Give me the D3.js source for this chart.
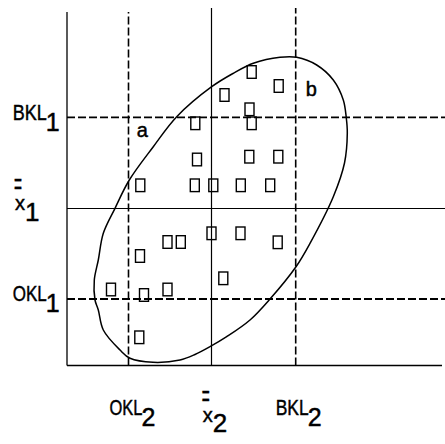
<!DOCTYPE html>
<html>
<head>
<meta charset="utf-8">
<script src="https://cdn.jsdelivr.net/npm/d3@7"></script>
<style>
  body { margin: 0; background: #fff; }
  svg { display: block; }
  text { font-family: "Liberation Sans", Arial, sans-serif; fill: #000; stroke: #000; stroke-width: 0.45px; }
</style>
</head>
<body>
<div id="chart"></div>
<script>
// control limits and grand means (units: lower left corner = 0,0)
var limitNames = ["OKL", "BKL"];
var x2Limits = [61.5, 228.7];
var x2Mean = 144.5;
var x1Limits = [66.5, 248.2];
var x1Mean = 157;

// sample points: x2 (horizontal) and x1 (vertical)
var pointX2 = [184.7, 211.7, 157.5, 182.5, 184.7, 128.3, 130, 182.3, 211.3,
  73.3, 127.8, 146.3, 173.8, 203.2, 144.5, 173.5, 100.5, 113.8, 210.7,
  73, 156.3, 44, 77, 100.5, 72.3];
var pointX1 = [293.5, 279.5, 270.5, 256.2, 242.2, 242.2, 206, 208.8, 208.8,
  180.2, 180.2, 180.2, 180.2, 180.2, 132.2, 132.2, 123.5, 123.5, 123.2,
  109.5, 87.2, 76, 70.5, 76, 28.2];

// outline of the ellipse as drawn
var ellipseX2 = [213, 229.7, 249.7, 266.3, 276.3, 279.3, 280.3, 277.5, 266.3,
  243, 229, 203, 183, 159.7, 143, 128, 113, 86, 63, 53, 36.3, 31.3, 28, 27.3,
  31.3, 36.3, 48, 62.3, 86.3, 109.7, 144.7, 166.3, 186.3];
var ellipseX1 = [308.2, 308.2, 300.5, 285.5, 265.5, 247.5, 232.5, 202.5, 168.8,
  122.2, 98.8, 66.5, 45.5, 28.8, 18.8, 11, 5.5, 3.2, 7.2, 15.5, 35.5, 55.5,
  65.5, 85.5, 105.5, 132.2, 157.2, 185.5, 218.8, 248.8, 278.8, 292.2, 302.2];

// region letters
var regionNames = ["a", "b"];
var regionX2 = [70.7, 239.7];
var regionX1 = [228.2, 269.8];

var width = 445, height = 444;

var svg = d3.select("#chart")
  .append("svg")
  .attr("width", width)
  .attr("height", height);

var x = d3.scaleLinear().domain([0, 375]).range([67, 442]);
var y = d3.scaleLinear().domain([0, 358]).range([365.5, 7.5]);

// frame
svg.append("line")
  .attr("x1", x(0)).attr("x2", x(0))
  .attr("y1", y(0)).attr("y2", y(353.5))
  .attr("stroke", "#000").attr("stroke-width", 1.3);
svg.append("line")
  .attr("x1", x(0)).attr("x2", x(375))
  .attr("y1", y(0)).attr("y2", y(0))
  .attr("stroke", "#000").attr("stroke-width", 1.3);

// horizontal lines (x1)
svg.selectAll(".hlimit")
  .data(x1Limits)
  .enter()
  .append("line")
  .attr("class", "hlimit")
  .attr("x1", x(0)).attr("x2", width)
  .attr("y1", (d) => y(d)).attr("y2", (d) => y(d))
  .attr("stroke", "#000")
  .attr("stroke-width", 1.8)
  .attr("stroke-dasharray", "8,3");

svg.append("line")
  .attr("x1", x(0)).attr("x2", width)
  .attr("y1", y(x1Mean)).attr("y2", y(x1Mean))
  .attr("stroke", "#000").attr("stroke-width", 1.2);

// vertical lines (x2)
svg.selectAll(".vlimit")
  .data(x2Limits)
  .enter()
  .append("line")
  .attr("class", "vlimit")
  .attr("x1", (d) => x(d)).attr("x2", (d) => x(d))
  .attr("y1", y(0))
  .attr("y2", (d, i) => (i === 0 ? y(353.5) : y(357.5)))
  .attr("stroke", "#000")
  .attr("stroke-width", 1.6)
  .attr("stroke-dasharray", "8,3");

svg.append("line")
  .attr("x1", x(x2Mean)).attr("x2", x(x2Mean))
  .attr("y1", y(0)).attr("y2", y(357.5))
  .attr("stroke", "#000").attr("stroke-width", 1.2);

// ellipse
var outline = ellipseX2.map((d, i) => [d, ellipseX1[i]]);
var line = d3.line()
  .x((d) => x(d[0]))
  .y((d) => y(d[1]))
  .curve(d3.curveCatmullRomClosed);

svg.append("path")
  .attr("d", line(outline))
  .attr("fill", "none")
  .attr("stroke", "#000")
  .attr("stroke-width", 1.5);

// points
svg.selectAll(".pt")
  .data(pointX2)
  .enter()
  .append("rect")
  .attr("class", "pt")
  .attr("x", (d) => x(d) - 4.5)
  .attr("y", (d, i) => y(pointX1[i]) - 6.3)
  .attr("width", 9)
  .attr("height", 12.6)
  .attr("fill", "none")
  .attr("stroke", "#000")
  .attr("stroke-width", 1.4);

// region letters
svg.selectAll(".region")
  .data(regionNames)
  .enter()
  .append("text")
  .attr("class", "region")
  .attr("x", (d, i) => x(regionX2[i]) - 1)
  .attr("y", (d, i) => y(regionX1[i]))
  .style("font-size", "20px")
  .text((d) => d);

// labels with subscripts (one text, two tspans)
function label(px, py, main, sub, len) {
  var t = svg.append("text")
    .attr("x", px).attr("y", py);
  t.append("tspan")
    .attr("textLength", len)
    .attr("lengthAdjust", "spacingAndGlyphs")
    .style("font-size", "22px")
    .text(main);
  t.append("tspan")
    .attr("x", px + len - 1)
    .attr("dy", 11)
    .style("font-size", "25px")
    .text(sub);
}

// left side
label(12.7, y(x1Limits[1]) + 3, limitNames[1], "1", 34);
label(12.7, y(x1Limits[0]) + 2, limitNames[0], "1", 34);

// bottom
label(x(x2Limits[0]) - 19, 415, limitNames[0], "2", 33);
label(x(x2Limits[1]) - 20, 415, limitNames[1], "2", 33);

// grand means: x with double bar
function meanLabel(px, py, sub) {
  var t = svg.append("text")
    .attr("x", px - 1).attr("y", py - 16);
  t.append("tspan")
    .attr("textLength", 8)
    .attr("lengthAdjust", "spacingAndGlyphs")
    .style("font-size", "30px")
    .text("=");
  t.append("tspan")
    .attr("x", px).attr("y", py)
    .style("font-size", "20px")
    .text("x");
  t.append("tspan")
    .attr("x", px + 10).attr("y", py + 10.5)
    .style("font-size", "26px")
    .text(sub);
}

meanLabel(15, y(x1Mean) + 1.5, "1");
meanLabel(x(x2Mean) - 8.8, 421.7, "2");
</script>
</body>
</html>
